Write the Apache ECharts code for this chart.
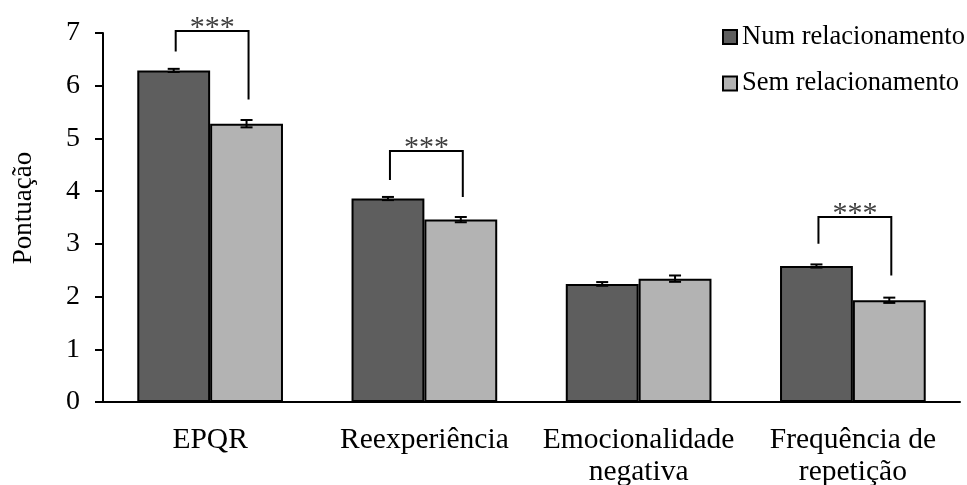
<!DOCTYPE html>
<html>
<head>
<meta charset="utf-8">
<script src="https://cdn.jsdelivr.net/npm/echarts@6/dist/echarts.min.js"></script>
<style>
  html, body { margin: 0; padding: 0; background: #fff; }
  #chart { width: 967px; height: 485px; }
</style>
</head>
<body>
<div id="chart"></div>
<script>
// Mean scores by relationship status, with standard errors
const categories = ['EPQR', 'Reexperiência', 'Emocionalidade\nnegativa', 'Frequência de\nrepetição'];
const seriesNames = ['Num relacionamento', 'Sem relacionamento'];
const inRelationship = [6.29, 3.86, 2.24, 2.58];
const notInRelationship = [5.28, 3.46, 2.34, 1.93];
const errInRelationship = [0.03, 0.03, 0.035, 0.03];
const errNotInRelationship = [0.07, 0.05, 0.06, 0.05];
const yTicks = [0, 1, 2, 3, 4, 5, 6, 7];

// Significance brackets: category, left leg end, right leg end, bracket height
const sigCategory = [0, 1, 3];
const sigLeftEnd = [6.65, 4.21, 3.00];
const sigRightEnd = [5.74, 3.89, 2.40];
const sigTop = [7.04, 4.76, 3.51];
const sigLabel = ['***', '***', '***'];

const FONT = "'Liberation Serif', 'Times New Roman', serif";
const CATEGORY_GAP = 0.32;               // share of each band left empty
const BAR_OFFSET = (1 - CATEGORY_GAP) / 4; // bar centre offset as a share of band width

const chart = echarts.init(document.getElementById('chart'), null, { renderer: 'canvas' });

function barX(api, cat, value, side) {
  const c = api.coord([cat, value]);
  const band = api.size([1, 0])[0];
  return c[0] + side * band * BAR_OFFSET;
}

function errorBarItem(params, api) {
  const cat = api.value(0), v = api.value(1), e = api.value(2), side = api.value(3);
  const x = barX(api, cat, v, side);
  const yHi = api.coord([cat, v + e])[1];
  const yLo = api.coord([cat, v - e])[1];
  const cap = 6;
  const style = { stroke: '#000', lineWidth: 2 };
  return {
    type: 'group',
    children: [
      { type: 'line', shape: { x1: x, y1: yHi, x2: x, y2: yLo }, style },
      { type: 'line', shape: { x1: x - cap, y1: yHi, x2: x + cap, y2: yHi }, style },
      { type: 'line', shape: { x1: x - cap, y1: yLo, x2: x + cap, y2: yLo }, style }
    ]
  };
}

function bracketItem(params, api) {
  const cat = api.value(0);
  const xL = barX(api, cat, 0, -1) + 2;
  const xR = barX(api, cat, 0, 1) + 2;
  const yL = api.coord([cat, api.value(1)])[1];
  const yR = api.coord([cat, api.value(2)])[1];
  const yT = api.coord([cat, api.value(3)])[1];
  return {
    type: 'group',
    children: [
      {
        type: 'polyline',
        shape: { points: [[xL, yL], [xL, yT], [xR, yT], [xR, yR]] },
        style: { stroke: '#000', lineWidth: 2, fill: null }
      },
      {
        type: 'text',
        style: {
          x: (xL + xR) / 2, y: yT - 3,
          text: sigLabel[params.dataIndex],
          font: '30px ' + FONT,
          fill: '#404040',
          align: 'center', verticalAlign: 'middle'
        }
      }
    ]
  };
}

const errData = [];
categories.forEach((_, i) => {
  errData.push([i, inRelationship[i], errInRelationship[i], -1]);
  errData.push([i, notInRelationship[i], errNotInRelationship[i], 1]);
});
const sigData = sigCategory.map((c, i) => [c, sigLeftEnd[i], sigRightEnd[i], sigTop[i]]);

const option = {
  backgroundColor: '#ffffff',
  animation: false,
  textStyle: { fontFamily: FONT, color: '#000' },
  grid: { left: 103, right: 7, top: 33, bottom: 83, containLabel: false, outerBoundsMode: 'none' },
  legend: {
    data: seriesNames,
    orient: 'vertical',
    left: 722,
    top: 23.5,
    padding: 0,
    itemWidth: 14,
    itemHeight: 14,
    itemGap: 19.5,
    icon: 'rect',
    textStyle: { fontFamily: FONT, fontSize: 26.5, color: '#000', lineHeight: 26 },
    selectedMode: false
  },
  xAxis: {
    type: 'category',
    data: categories,
    axisLine: { show: true, lineStyle: { color: '#000', width: 2 } },
    axisTick: { show: false },
    axisLabel: {
      interval: 0, margin: 22,
      fontFamily: FONT, fontSize: 29.5, lineHeight: 32, color: '#000'
    },
    splitLine: { show: false }
  },
  yAxis: {
    type: 'value',
    min: yTicks[0],
    max: yTicks[yTicks.length - 1],
    interval: 1,
    name: 'Pontuação',
    nameLocation: 'middle',
    nameGap: 66,
    nameRotate: 90,
    nameTextStyle: { fontFamily: FONT, fontSize: 27, color: '#000', padding: [0, 0, 0, 19] },
    axisLine: { show: true, lineStyle: { color: '#000', width: 2 } },
    axisTick: { show: true, length: 8, inside: false, lineStyle: { color: '#000', width: 2 } },
    axisLabel: { margin: 23, fontFamily: FONT, fontSize: 28, color: '#000' },
    splitLine: { show: false }
  },
  series: [
    {
      name: seriesNames[0],
      type: 'bar',
      data: inRelationship,
      barGap: '0%',
      barCategoryGap: (CATEGORY_GAP * 100) + '%',
      itemStyle: { color: '#5e5e5e', borderColor: '#000', borderWidth: 2 },
      z: 2
    },
    {
      name: seriesNames[1],
      type: 'bar',
      data: notInRelationship,
      barGap: '0%',
      barCategoryGap: (CATEGORY_GAP * 100) + '%',
      itemStyle: { color: '#b3b3b3', borderColor: '#000', borderWidth: 2 },
      z: 2
    },
    {
      type: 'custom',
      name: 'erros',
      data: errData,
      encode: { x: 0, y: 1 },
      renderItem: errorBarItem,
      z: 5,
      silent: true
    },
    {
      type: 'custom',
      name: 'significancia',
      data: sigData,
      encode: { x: 0, y: 3 },
      renderItem: bracketItem,
      clip: false,
      z: 5,
      silent: true
    }
  ]
};

chart.setOption(option);
</script>
</body>
</html>
